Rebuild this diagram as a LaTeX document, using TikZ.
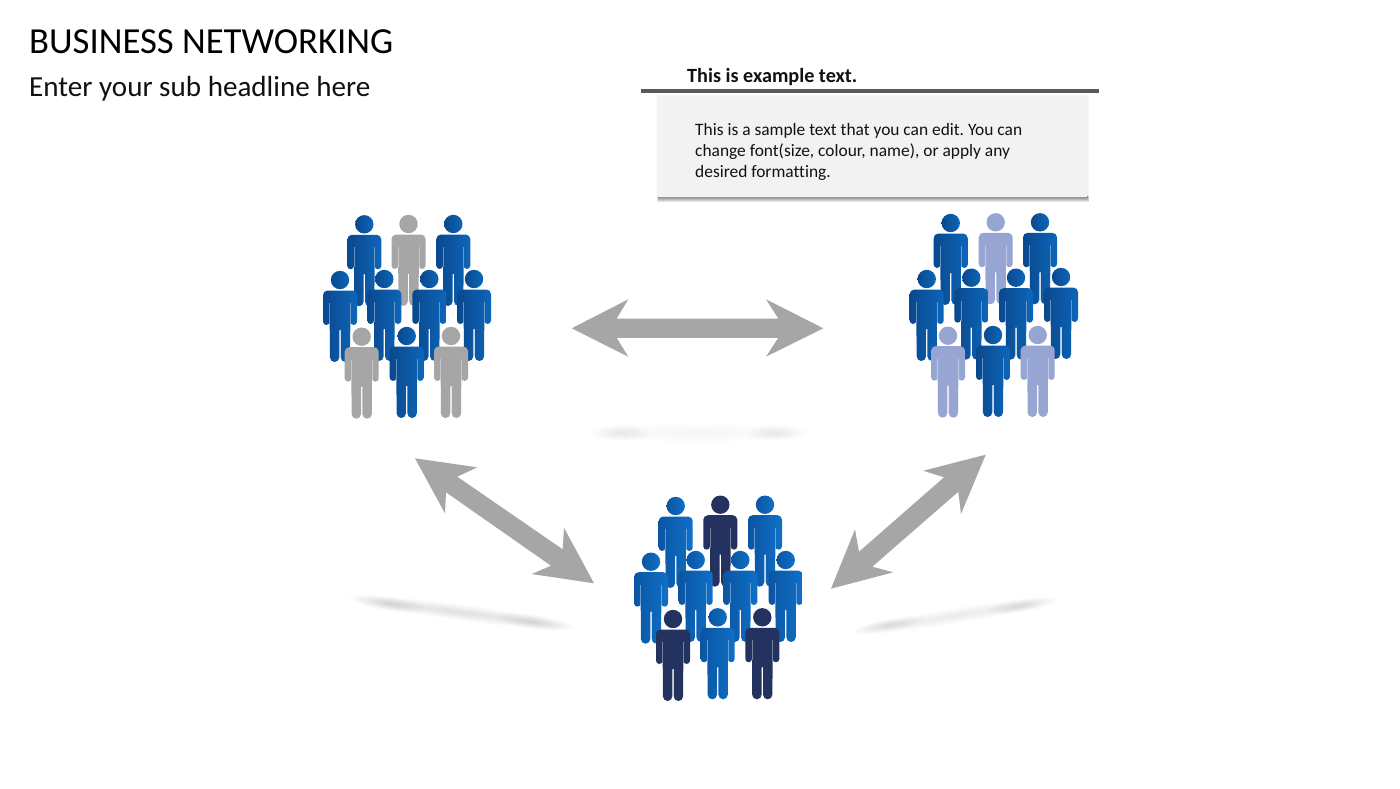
\documentclass[tikz,border=0pt]{standalone}
\usepackage{fontspec}
\setmainfont[Ligatures=NoCommon]{Carlito}
\definecolor{arrowgrey}{HTML}{A6A6A6}
\definecolor{boxgrey}{HTML}{F2F2F2}
\definecolor{rulegrey}{HTML}{595959}
\definecolor{inkblack}{HTML}{111111}
\definecolor{bluedark}{HTML}{0A488E}
\definecolor{bluemid}{HTML}{0C5CAD}
\definecolor{bluelight}{HTML}{0D66B8}
\definecolor{cobaltdark}{HTML}{0B55A3}
\definecolor{cobaltmid}{HTML}{0D66BA}
\definecolor{cobaltlight}{HTML}{0F70C6}
\definecolor{navy}{HTML}{24325F}
\definecolor{periwinkle}{HTML}{97A5D3}
\tikzset{
  bluefig/.style={left color=bluedark,middle color=bluemid,right color=bluelight},
  cobaltfig/.style={left color=cobaltdark,middle color=cobaltmid,right color=cobaltlight},
  greyfig/.style={fill=arrowgrey},
  navyfig/.style={fill=navy},
  perifig/.style={fill=periwinkle},
  blockarrow/.style={fill=arrowgrey},
  slit/.style={draw=white,draw opacity=.38,line width=.8pt},
  txt/.style={anchor=base west,inner sep=0pt,text=inkblack},
}
% #1,#2 head centre, #3 style
\newcommand{\personfig}[3]{%
  \begin{scope}[shift={(#1,#2)}]
    \path[#3] (0,0) circle (9.2);
    \path[#3] (-17,18) [rounded corners=4.6] -- (-17,10.5) -- (17,10.5) [sharp corners] -- (17,41.6)
      arc[start angle=0,end angle=-180,radius=3.35pt]
      -- (10.1,77.3) arc[start angle=0,end angle=-180,radius=4.7pt] -- (0.7,50)
      -- (-0.7,50) -- (-0.7,77.3) arc[start angle=0,end angle=-180,radius=4.7pt]
      -- (-10.3,41.6) arc[start angle=0,end angle=-180,radius=3.35pt] -- cycle;
    \draw[slit] (10.4,23) -- (10.4,43);
    \draw[slit] (-10.4,23) -- (-10.4,43);
    \draw[slit] (0,50) -- (0,80);
  \end{scope}}
% soft blurred ellipse: centre #1,#2; radii #3,#4; rotation #5; layer opacity #6
\newcommand{\softblob}[6]{%
  \begin{scope}[shift={(#1,#2)},rotate=#5]
    \foreach \w in {1,...,10}{
      \fill[black,fill opacity=#6] (0,0) ellipse [x radius=#3*\w/10*1pt,y radius=#4*\w/10*1pt];
    }
  \end{scope}}
\begin{document}
\frenchspacing
\begin{tikzpicture}[x=1pt,y=-1pt]
\useasboundingbox (0,0) rectangle (1400,788);
\fill[white] (0,0) rectangle (1400,788);

% soft floor shadows
\softblob{698}{433}{110}{10}{0}{.005}
\softblob{622}{433}{30}{8}{0}{.006}
\softblob{776}{433}{30}{8}{0}{.006}
\softblob{461}{612.5}{114}{8}{-7.6}{.011}
\softblob{390}{604}{38}{7}{-7.6}{.011}
\softblob{533}{622}{40}{7}{-7.6}{.011}
\softblob{955}{616}{104}{8}{9.4}{.009}
\softblob{890}{625}{36}{6.5}{9.4}{.011}
\softblob{1020}{606}{36}{6.5}{9.4}{.011}

% text box
\foreach \d in {1,...,6}{
  \fill[black,fill opacity=.1] (658.5-\d*.2,196) rectangle (1087.5+\d*.2,196+\d*1.05);
}
\foreach \d in {1,2,3}{
  \fill[black,fill opacity=.02] (658.3-\d*.7,96) rectangle (1087.3+\d*.7,197);
}
\fill[boxgrey] (658.3,95) rectangle (1087.3,196.5);
\coordinate (ruleL) at (640.5,91.3);
\coordinate (ruleR) at (1098.5,91.3);
\draw[rulegrey,line width=3.8pt] (ruleL) -- (ruleR);
\node[txt,font=\bfseries\fontsize{20.2}{24}\selectfont] (head) at (687,82.5) {This is example text.};
\node[txt,font=\fontsize{17.4}{20}\selectfont] (l1) at (695,135) {This is a sample text that you can edit. You can};
\node[txt,font=\fontsize{17.4}{20}\selectfont] (l2) at (695,156) {change font(size, colour, name), or apply any};
\node[txt,font=\fontsize{17.4}{20}\selectfont] (l3) at (695,177) {desired formatting.};

% title
\node[txt,font=\fontsize{36.7}{40}\selectfont,text=black] (title) at (29,53.5) {BUSINESS NETWORKING};
\node[txt,font=\fontsize{29.1}{32}\selectfont] (sub) at (29,96) {Enter your sub headline here};

% block arrows
\coordinate (horizL) at (571.7,328.3);
\coordinate (horizR) at (823.3,328.3);
\fill[blockarrow] (horizL) -- (628.3,299.3) -- (616.7,318.5) -- (778.3,318.5) -- (766,299.3)
  -- (horizR) -- (766,356.7) -- (778.3,337.8) -- (616.7,337.8) -- (628.3,356.7) -- cycle;
\coordinate (leftA) at (415,458.3);
\coordinate (leftB) at (594,583.3);
\fill[blockarrow] (leftA) -- (477.3,467.3) -- (457.3,476.7) -- (562.7,549.3) -- (564,527.7)
  -- (leftB) -- (531.7,574) -- (551,565.7) -- (446,492.3) -- (445,513.3) -- cycle;
\coordinate (rightA) at (985.7,454.7);
\coordinate (rightB) at (831,588.7);
\fill[blockarrow] (rightA) -- (923.3,470.7) -- (944,477.3) -- (859,551.7) -- (855,529.3)
  -- (rightB) -- (893.3,572.3) -- (872.3,566.7) -- (958.3,491.7) -- (961,514) -- cycle;

% group 1
\personfig{364.3}{224.3}{bluefig}
\personfig{408.5}{224}{greyfig}
\personfig{453.3}{224}{bluefig}
\personfig{340}{280}{bluefig}
\personfig{384.3}{279}{bluefig}
\personfig{429.3}{279}{bluefig}
\personfig{474}{279}{bluefig}
\personfig{361.7}{336.7}{greyfig}
\personfig{406.7}{336}{bluefig}
\personfig{451}{336}{greyfig}

% group 2
\personfig{950.7}{223}{bluefig}
\personfig{995.7}{222.3}{perifig}
\personfig{1040}{222.3}{bluefig}
\personfig{926.7}{279}{bluefig}
\personfig{971.3}{277.7}{bluefig}
\personfig{1016}{277.7}{bluefig}
\personfig{1061}{277}{bluefig}
\personfig{948}{335.7}{perifig}
\personfig{993}{335}{bluefig}
\personfig{1037.7}{335}{perifig}

% group 3
\personfig{675.7}{506}{cobaltfig}
\personfig{720.3}{504.7}{navyfig}
\personfig{765}{504.7}{cobaltfig}
\personfig{651}{561.7}{cobaltfig}
\personfig{695.7}{560}{cobaltfig}
\personfig{740.3}{560}{cobaltfig}
\personfig{785.7}{560}{cobaltfig}
\personfig{673}{619}{navyfig}
\personfig{717.7}{617.3}{cobaltfig}
\personfig{762.3}{617.3}{navyfig}
\end{tikzpicture}
\end{document}
